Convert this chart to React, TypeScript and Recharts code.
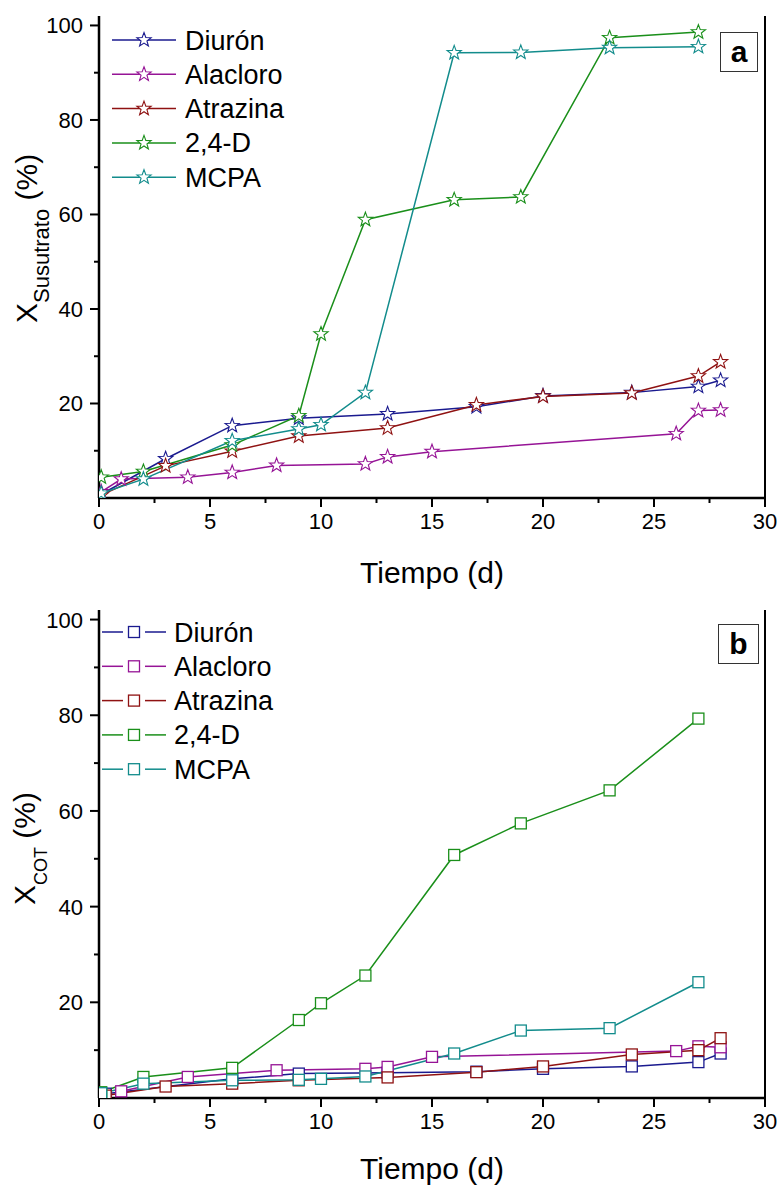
import React from 'react';
import { LineChart, Line, XAxis, YAxis, Legend } from 'recharts';

const FONT = '"Liberation Sans", Arial, Helvetica, sans-serif';

const seriesNames = ['Diurón', 'Alacloro', 'Atrazina', '2,4-D', 'MCPA'];
const seriesColors = ['#1a1a8f', '#961496', '#8f1212', '#1a8f1a', '#128c8c'];

const xTicks = [0, 2.5, 5, 7.5, 10, 12.5, 15, 17.5, 20, 22.5, 25, 27.5, 30];
const yTicks = [10, 20, 30, 40, 50, 60, 70, 80, 90, 100];

// Panel a: X Susutrato (%)
const diuronSubDays = [0.1, 3, 6, 9, 13, 17, 20, 24, 27, 28];
const diuronSubVals = [0.8, 8.3, 15.3, 16.9, 17.8, 19.3, 21.6, 22.3, 23.6, 24.9];
const alacloroSubDays = [0.1, 1, 4, 6, 8, 12, 13, 15, 26, 27, 28];
const alacloroSubVals = [1.3, 4.0, 4.4, 5.4, 6.9, 7.2, 8.7, 9.8, 13.6, 18.5, 18.6];
const atrazinaSubDays = [0.1, 3, 6, 9, 13, 17, 20, 24, 27, 28];
const atrazinaSubVals = [0.6, 6.8, 9.9, 13.1, 14.8, 19.7, 21.5, 22.2, 25.8, 28.8];
const d24SubDays = [0.1, 2, 6, 9, 10, 12, 16, 19, 23, 27];
const d24SubVals = [4.4, 5.6, 11.2, 17.4, 34.7, 58.9, 63.1, 63.7, 97.4, 98.6];
const mcpaSubDays = [0.1, 2, 6, 9, 10, 12, 16, 19, 23, 27];
const mcpaSubVals = [1.0, 4.0, 12.1, 14.6, 15.5, 22.3, 94.2, 94.3, 95.3, 95.5];

// Panel b: X COT (%)
const diuronCotDays = [0.3, 6, 9, 13, 17, 20, 24, 27, 28];
const diuronCotVals = [0.9, 4.0, 5.1, 5.3, 5.5, 6.1, 6.6, 7.5, 9.3];
const alacloroCotDays = [1, 4, 8, 12, 13, 15, 26, 27, 28];
const alacloroCotVals = [1.4, 4.4, 5.8, 6.1, 6.5, 8.6, 9.8, 10.8, 10.6];
const atrazinaCotDays = [0.3, 3, 6, 9, 13, 17, 20, 24, 27, 28];
const atrazinaCotVals = [0.5, 2.4, 3.0, 3.7, 4.3, 5.4, 6.6, 9.1, 10.0, 12.5];
const d24CotDays = [0.1, 2, 6, 9, 10, 12, 16, 19, 23, 27];
const d24CotVals = [1.2, 4.4, 6.3, 16.3, 19.8, 25.6, 50.8, 57.4, 64.3, 79.3];
const mcpaCotDays = [0.1, 2, 6, 9, 10, 12, 16, 19, 23, 27];
const mcpaCotVals = [1.0, 3.0, 3.7, 3.8, 4.0, 4.5, 9.3, 14.1, 14.6, 24.2];

const zip = (days: number[], vals: number[]) => days.map((d, i) => ({ d, v: vals[i] }));

const subData = [
  zip(diuronSubDays, diuronSubVals),
  zip(alacloroSubDays, alacloroSubVals),
  zip(atrazinaSubDays, atrazinaSubVals),
  zip(d24SubDays, d24SubVals),
  zip(mcpaSubDays, mcpaSubVals),
];
const cotData = [
  zip(diuronCotDays, diuronCotVals),
  zip(alacloroCotDays, alacloroCotVals),
  zip(atrazinaCotDays, atrazinaCotVals),
  zip(d24CotDays, d24CotVals),
  zip(mcpaCotDays, mcpaCotVals),
];

function starPath(cx: number, cy: number, R: number, r: number) {
  let d = '';
  for (let i = 0; i < 10; i++) {
    const rad = i % 2 === 0 ? R : r;
    const a = -Math.PI / 2 + (i * Math.PI) / 5;
    d += (i ? 'L' : 'M') + (cx + rad * Math.cos(a)).toFixed(2) + ',' + (cy + rad * Math.sin(a)).toFixed(2);
  }
  return d + 'Z';
}

function Marker({ shape, color, cx, cy }: any) {
  if (shape === 'star') {
    return <path d={starPath(cx, cy, 7.5, 3.1)} fill="#fff" stroke={color} strokeWidth={1.1} />;
  }
  return <rect x={cx - 5.5} y={cy - 5.5} width={11} height={11} fill="#fff" stroke={color} strokeWidth={1.3} />;
}

const makeDot = (shape: string, color: string) => (props: any) => {
  const { cx, cy, index } = props;
  if (cx == null || cy == null) return <g key={`n${index}`} />;
  return <Marker key={`m${index}`} shape={shape} color={color} cx={cx} cy={cy} />;
};

const XTick = (props: any) => {
  const { x, y, payload } = props;
  const v = payload.value;
  const major = v % 5 === 0;
  return (
    <g>
      <line x1={x} y1={y} x2={x} y2={y + (major ? 9 : 5)} stroke="#000" strokeWidth={2} />
      {major && (
        <text x={x} y={y + 31} textAnchor="middle" fontSize={22} fontFamily={FONT} fill="#000">
          {v}
        </text>
      )}
    </g>
  );
};

const YTick = (props: any) => {
  const { x, y, payload } = props;
  const v = payload.value;
  const major = v % 20 === 0;
  return (
    <g>
      <line x1={x} y1={y} x2={x - (major ? 9 : 5)} y2={y} stroke="#000" strokeWidth={2} />
      {major && (
        <text x={x - 16} y={y + 8} textAnchor="end" fontSize={22} fontFamily={FONT} fill="#000">
          {v}
        </text>
      )}
    </g>
  );
};

const XTitle = ({ cx, by }: any) => (
  <text x={cx} y={by} textAnchor="middle" fontSize={30} fontFamily={FONT} fill="#000">
    Tiempo (d)
  </text>
);

const YTitle = ({ bx, by, sub, subSize, subShift }: any) => (
  <text transform={`rotate(-90, ${bx}, ${by})`} x={bx} y={by} fontSize={30} fontFamily={FONT} fill="#000">
    <tspan>X</tspan>
    <tspan fontSize={subSize} dy={subShift}>{sub}</tspan>
    <tspan dy={-subShift}> (%)</tspan>
  </text>
);

const makeLegend = (shape: string) => () => (
  <svg width={240} height={180} style={{ overflow: 'visible' }}>
    {seriesNames.map((name, i) => {
      const cy = 17 + i * 34.3;
      const color = seriesColors[i];
      return (
        <g key={name}>
          {shape === 'star' ? (
            <line x1={0} y1={cy} x2={64} y2={cy} stroke={color} strokeWidth={1.5} />
          ) : (
            <g>
              <line x1={-10} y1={cy} x2={11} y2={cy} stroke={color} strokeWidth={1.5} />
              <line x1={33} y1={cy} x2={54} y2={cy} stroke={color} strokeWidth={1.5} />
            </g>
          )}
          <Marker shape={shape} color={color} cx={shape === 'star' ? 32 : 22} cy={cy} />
          <text x={shape === 'star' ? 73 : 62} y={cy + 9.5} fontSize={27} fontFamily={FONT} fill="#000">
            {name}
          </text>
        </g>
      );
    })}
  </svg>
);

function Panel(p: any) {
  const { data, shape, height, top, marginTop, xAxisHeight, titleDrop, sub, subSize, subShift, yTitleX, yTitleY, legendLeft, legendTop, tag, tagBox } = p;
  const plotBottom = height - xAxisHeight;
  return (
    <div style={{ position: 'absolute', left: 0, top, width: 779, height }}>
      <LineChart width={779} height={height} margin={{ top: marginTop, right: 0, bottom: 0, left: 0 }}>
        <XAxis
          dataKey="d"
          type="number"
          domain={[0, 30]}
          ticks={xTicks}
          allowDataOverflow
          height={xAxisHeight}
          tickSize={0}
          tickMargin={0}
          tickLine={false}
          tick={<XTick />}
          axisLine={{ stroke: '#000', strokeWidth: 2.5 }}
          label={<XTitle cx={432} by={plotBottom + titleDrop} />}
        />
        <XAxis xAxisId="top" dataKey="d" type="number" domain={[0, 30]} orientation="top" height={0} tick={false} tickLine={false} axisLine={{ stroke: '#000', strokeWidth: 2 }} />
        <YAxis
          type="number"
          domain={[0, 102]}
          ticks={yTicks}
          allowDataOverflow
          width={99}
          tickSize={0}
          tickMargin={0}
          tickLine={false}
          tick={<YTick />}
          axisLine={{ stroke: '#000', strokeWidth: 2.5 }}
          label={<YTitle bx={yTitleX} by={yTitleY} sub={sub} subSize={subSize} subShift={subShift} />}
        />
        <YAxis yAxisId="right" orientation="right" width={14} domain={[0, 102]} tick={false} tickLine={false} axisLine={{ stroke: '#000', strokeWidth: 2 }} />
        <Legend
          layout="vertical"
          align="center"
          verticalAlign="middle"
          width={240}
          height={180}
          wrapperStyle={{ left: legendLeft, top: legendTop }}
          content={makeLegend(shape)}
        />
        {data.map((rows: any[], i: number) => (
          <Line
            key={seriesNames[i]}
            data={rows}
            dataKey="v"
            name={seriesNames[i]}
            type="linear"
            stroke={seriesColors[i]}
            strokeWidth={1.5}
            dot={makeDot(shape, seriesColors[i])}
            activeDot={false}
            isAnimationActive={false}
          />
        ))}
      </LineChart>
      <div
        style={{
          position: 'absolute',
          left: tagBox[0],
          top: tagBox[1],
          width: tagBox[2],
          height: tagBox[3],
          boxSizing: 'border-box',
          border: '1px solid #333',
          background: '#fff',
          display: 'flex',
          alignItems: 'center',
          justifyContent: 'center',
          fontFamily: FONT,
          fontWeight: 'bold',
          fontSize: 30,
          lineHeight: 1,
        }}
      >
        {tag}
      </div>
    </div>
  );
}

export default function App() {
  return (
    <div style={{ position: 'absolute', left: 0, top: 0, width: 779, height: 1187, background: '#fff' }}>
      <Panel
        data={subData}
        shape="star"
        height={595}
        top={0}
        marginTop={16}
        xAxisHeight={97}
        titleDrop={85}
        sub="Susutrato"
        subSize={22}
        subShift={12}
        yTitleX={37}
        yTitleY={323}
        legendLeft={112}
        legendTop={23}
        tag="a"
        tagBox={[720, 32, 38, 40]}
      />
      <Panel
        data={cotData}
        shape="square"
        height={592}
        top={595}
        marginTop={15}
        xAxisHeight={89}
        titleDrop={81}
        sub="COT"
        subSize={18}
        subShift={12}
        yTitleX={35}
        yTitleY={310}
        legendLeft={112}
        legendTop={20}
        tag="b"
        tagBox={[718, 29, 41, 40]}
      />
    </div>
  );
}
